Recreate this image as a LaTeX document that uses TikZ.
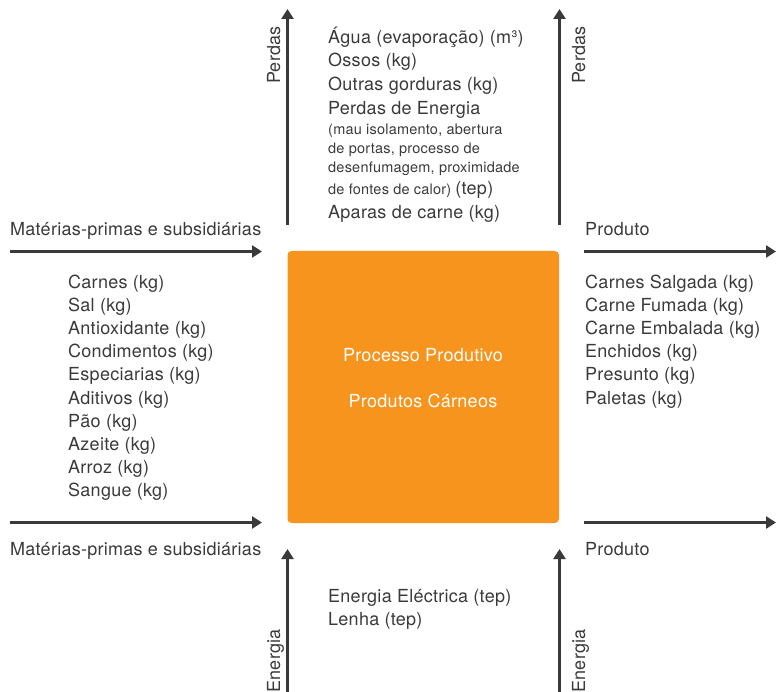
\documentclass[tikz,border=0pt]{standalone}
\usepackage{fontspec}
\setmainfont[LetterSpace=1.5]{TeX Gyre Heros}
\usetikzlibrary{arrows.meta}
\definecolor{ink}{HTML}{3A3A3A}
\definecolor{procorange}{HTML}{F7941D}
\tikzset{
  flow/.style={draw=ink, line width=2.6pt, -{Triangle[length=10pt,width=12pt]}},
  txt/.style={anchor=base west, inner sep=0pt, text=ink, font=\fontsize{18}{22}\selectfont},
  small/.style={txt, font=\fontsize{14.5}{18}\selectfont},
  side/.style={anchor=base, inner sep=0pt, rotate=90, text=ink, font=\fontsize{18}{22}\selectfont}
}
\begin{document}
\begin{tikzpicture}[x=1pt, y=-1pt]
\useasboundingbox (0,0) rectangle (776,692);
% central process box
\node[fill=procorange, rounded corners=4pt, inner sep=0pt, minimum width=271.5pt, minimum height=272pt] (proc) at (423.25,387) {};
\node[anchor=base, inner sep=0pt, text=white, font=\fontsize{18}{22}\selectfont] (procA) at (423,361) {Processo Produtivo};
\node[anchor=base, inner sep=0pt, text=white, font=\fontsize{18}{22}\selectfont] (procB) at (423,407) {Produtos Cárneos};

% arrow end points
\coordinate (tlS) at (287.5,225); \coordinate (tlE) at (287.5,9);
\coordinate (trS) at (559.5,225); \coordinate (trE) at (559.5,9);
\coordinate (blS) at (287.5,692); \coordinate (blE) at (287.5,549);
\coordinate (brS) at (559.5,692); \coordinate (brE) at (559.5,549);
\coordinate (inAS) at (10,251.5); \coordinate (inAE) at (262,251.5);
\coordinate (inBS) at (10,522.5); \coordinate (inBE) at (262,522.5);
\coordinate (outAS) at (584,251.5); \coordinate (outAE) at (776,251.5);
\coordinate (outBS) at (584,522.5); \coordinate (outBE) at (776,522.5);
\foreach \a in {tl,tr,bl,br} \draw[flow] (\a S) -- (\a E);
\foreach \a in {inA,inB,outA,outB} \draw[flow] (\a S) -- (\a E);

% arrow labels
\node[side] (lossL) at (280,55) {Perdas};
\node[side] (lossR) at (585,55) {Perdas};
\node[side] (enL) at (280,661) {Energia};
\node[side] (enR) at (585,661) {Energia};
\node[txt] (inA) at (10,236) {Matérias-primas e subsidiárias};
\node[txt] (inB) at (10,555) {Matérias-primas e subsidiárias};
\node[txt] (outA) at (585,236) {Produto};
\node[txt] (outB) at (585,555) {Produto};

% losses
\node[txt] (l1) at (328,44) {Água (evaporação) (m³)};
\node[txt] (l2) at (328,67) {Ossos (kg)};
\node[txt] (l3) at (328,91) {Outras gorduras (kg)};
\node[txt] (l4) at (328,115) {Perdas de Energia};
\node[small] (l5) at (328,135) {(mau isolamento, abertura};
\node[small] (l6) at (328,154) {de portas, processo de};
\node[small] (l7) at (328,173) {desenfumagem, proximidade};
\node[small] (l8) at (328,195) {de fontes de calor) {\fontsize{18}{22}\selectfont(tep)}};
\node[txt] (l9) at (328,219) {Aparas de carne (kg)};

% inputs
\foreach \t [count=\i from 0] in {Carnes (kg), Sal (kg), Antioxidante (kg), Condimentos (kg),
  Especiarias (kg), Aditivos (kg), Pão (kg), Azeite (kg), Arroz (kg), Sangue (kg)}
  \node[txt] (in\i) at (68,289+23*\i) {\t};

% products
\foreach \t [count=\i from 0] in {Carnes Salgada (kg), Carne Fumada (kg), Carne Embalada (kg),
  Enchidos (kg), Presunto (kg), Paletas (kg)}
  \node[txt] (out\i) at (585,289+23*\i) {\t};

% energy
\node[txt] (e1) at (328,602) {Energia Eléctrica (tep)};
\node[txt] (e2) at (328,625) {Lenha (tep)};
\end{tikzpicture}
\end{document}
